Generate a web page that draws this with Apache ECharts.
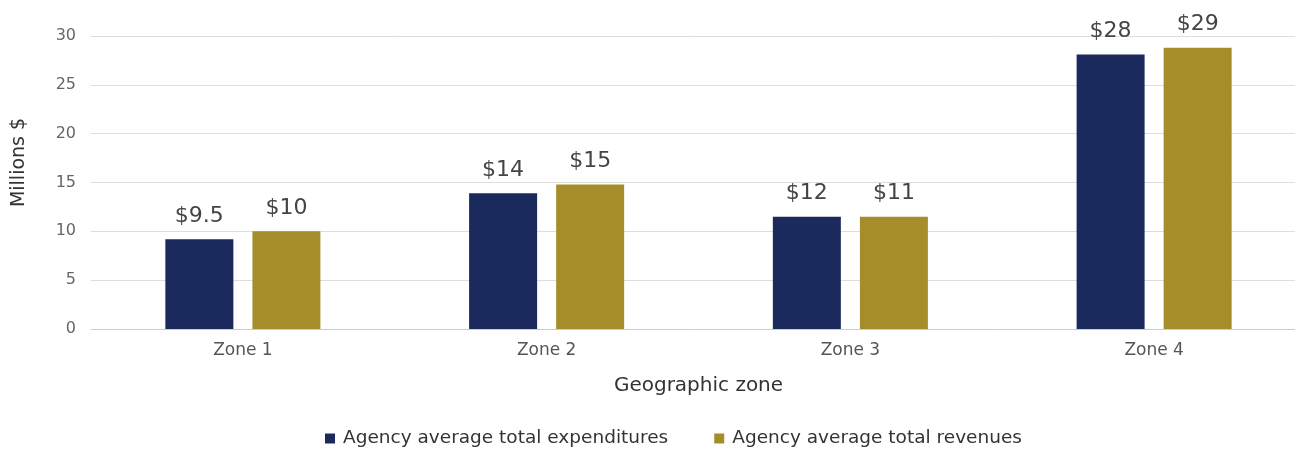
<!DOCTYPE html>
<html><head><meta charset="utf-8">
<script src="https://cdn.jsdelivr.net/npm/echarts@6/dist/echarts.min.js"></script>
<style>html,body{margin:0;padding:0;background:#fff}#c{width:1295px;height:452px}</style>
</head><body><div id="c"></div>
<script>
const categories = ["Zone 1", "Zone 2", "Zone 3", "Zone 4"];
const expenditures = [9.2, 13.9, 11.5, 28.1];
const revenues = [10.0, 14.8, 11.5, 28.8];
const expLabels = ["$9.5", "$14", "$12", "$28"];
const revLabels = ["$10", "$15", "$11", "$29"];
const seriesNames = ["Agency average total expenditures", "Agency average total revenues"];
const yTicks = [0, 5, 10, 15, 20, 25, 30];

const font = "'DejaVu Sans', sans-serif";
const chart = echarts.init(document.getElementById('c'));
function lbl(arr){
  return {show:true, position:'top', distance:12, fontSize:22, color:'#444', fontFamily:font,
    formatter: p => arr[p.dataIndex]};
}
chart.setOption({
  animation:false,
  textStyle:{fontFamily:font},
  grid:{left:91, top:36, width:1215, bottom:123, containLabel:false, outerBoundsMode:'none'},
  legend:{bottom:-1, left:320, itemWidth:10, itemHeight:10, itemGap:46, icon:'rect',
    textStyle:{fontSize:18.5, color:'#333', fontFamily:font, padding:[0,0,0,3]}, data:seriesNames},
  xAxis:{type:'category', data:categories,
    axisLine:{lineStyle:{color:'#ccc'}}, axisTick:{show:false},
    axisLabel:{fontSize:17, color:'#555', margin:13},
    name:'Geographic zone', nameLocation:'middle', nameGap:47,
    nameTextStyle:{fontSize:20, color:'#333'}},
  yAxis:{type:'value', min:yTicks[0], max:yTicks[yTicks.length-1], interval:5,
    axisLabel:{fontSize:16, color:'#666', margin:15},
    splitLine:{lineStyle:{color:'#ddd'}},
    name:'Millions $', nameLocation:'middle', nameGap:62,
    nameTextStyle:{fontSize:19, color:'#333', padding:[0,0,0,40]}},
  series:[
    {name:seriesNames[0], type:'bar', data:expenditures, barWidth:68, barGap:'28%',
      itemStyle:{color:'#1b2a5c'}, label:lbl(expLabels)},
    {name:seriesNames[1], type:'bar', data:revenues, barWidth:68,
      itemStyle:{color:'#a68d2c'}, label:lbl(revLabels)}
  ]
});
</script></body></html>
